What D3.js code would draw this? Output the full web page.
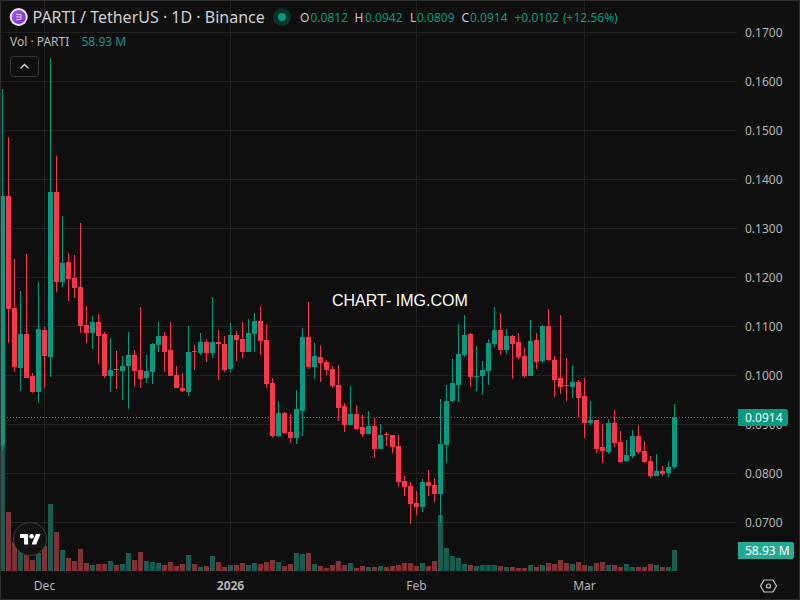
<!DOCTYPE html>
<html>
<head>
<meta charset="utf-8">
<script src="https://cdn.jsdelivr.net/npm/d3@7/dist/d3.min.js"></script>
<style>
  html, body { margin: 0; padding: 0; background: #0f0f0f; }
  svg { display: block; }
  text { font-family: "Noto Sans", sans-serif; }
</style>
</head>
<body>
<div id="chart"></div>
<script>
// daily candles
const opens = [
  .0858,.1366,.1137,.1015,.1084,.0999,.0966,.1092,.1037,.1374,
  .1190,.1231,.1199,.1180,.1103,.1086,.1109,.1084,.0999,.1013,
  .1009,.1019,.1041,.1011,.0994,.1007,.1062,.1080,.1052,.1001,
  .0974,.0966,.1050,.1045,.1068,.1045,.1068,.1064,.1013,.1082,
  .1074,.1048,.1084,.1111,.1072,.0984,.0876,.0923,.0884,.0872,
  .0927,.1078,.1017,.1037,.1027,.1013,.0980,.0937,.0899,.0921,
  .0895,.0880,.0897,.0850,.0880,.0878,.0856,.0784,.0774,.0739,
  .0731,.0782,.0776,.0758,.0858,.0948,.0980,.1041,.1084,.0996,
  .0999,.1009,.1064,.1092,.1052,.1080,.1068,.1039,.0999,.1072,
  .1029,.1101,.1031,.0994,.0980,.0976,.0986,.0958,.0903,.0909,
  .0854,.0843,.0903,.0864,.0825,.0835,.0876,.0845,.0825,.0794,
  .0805,.0801,.0812];
const highs = [
  .1584,.1486,.1237,.1172,.1248,.1005,.1190,.1099,.1648,.1448,
  .1325,.1250,.1246,.1311,.1141,.1121,.1125,.1088,.1076,.1050,
  .1039,.1088,.1052,.1139,.1041,.1066,.1109,.1088,.1109,.1019,
  .1005,.1101,.1062,.1086,.1074,.1160,.1092,.1080,.1107,.1090,
  .1109,.1115,.1127,.1141,.1105,.0994,.0948,.0925,.0921,.0970,
  .1097,.1150,.1066,.1062,.1031,.1019,.1021,.0943,.0978,.0939,
  .0919,.0927,.0913,.0901,.0884,.0878,.0878,.0794,.0782,.0764,
  .0788,.0807,.0790,.0952,.0980,.1033,.1105,.1123,.1086,.1060,
  .1029,.1074,.1139,.1127,.1094,.1082,.1086,.1056,.1113,.1086,
  .1103,.1135,.1039,.1123,.1035,.1019,.0990,.0994,.0948,.0909,
  .0901,.0911,.0929,.0886,.0868,.0888,.0899,.0866,.0835,.0839,
  .0815,.0825,.0942];
const lows = [
  .0848,.1066,.1007,.0968,.0994,.0964,.0943,.0974,.0996,.1170,
  .1180,.1152,.1158,.1086,.1066,.1054,.1023,.0994,.0966,.0972,
  .0950,.0931,.0976,.0974,.0984,.0982,.1048,.1007,.0999,.0974,
  .0966,.0958,.1011,.1041,.1027,.1035,.0990,.1007,.1007,.1029,
  .1035,.1048,.1048,.1041,.0974,.0872,.0874,.0880,.0862,.0860,
  .0876,.1013,.0992,.0986,.1001,.0974,.0907,.0884,.0899,.0890,
  .0874,.0880,.0831,.0850,.0856,.0841,.0772,.0754,.0696,.0715,
  .0721,.0754,.0741,.0699,.0821,.0945,.0945,.1037,.0976,.0968,
  .0960,.0980,.1058,.1041,.1043,.0992,.1033,.0994,.0999,.1013,
  .1025,.1029,.0956,.0962,.0948,.0954,.0915,.0872,.0899,.0841,
  .0821,.0839,.0854,.0821,.0823,.0831,.0839,.0821,.0790,.0794,
  .0794,.0792,.0809];
const closes = [
  .1366,.1135,.1017,.1084,.0994,.0966,.1094,.1039,.1374,.1190,
  .1229,.1197,.1178,.1101,.1086,.1109,.1080,.0999,.1011,.1011,
  .1019,.1041,.1009,.0992,.1009,.1064,.1080,.1048,.0999,.0974,
  .0968,.1048,.1048,.1068,.1045,.1068,.1064,.1011,.1082,.1072,
  .1048,.1086,.1111,.1070,.0982,.0876,.0923,.0882,.0872,.0931,
  .1078,.1017,.1039,.1025,.1011,.0978,.0933,.0899,.0921,.0890,
  .0880,.0897,.0850,.0878,.0878,.0854,.0782,.0772,.0737,.0731,
  .0782,.0774,.0758,.0860,.0948,.0984,.1043,.1082,.0996,.0999,
  .1011,.1066,.1092,.1052,.1080,.1064,.1037,.0999,.1070,.1027,
  .1101,.1031,.0990,.0976,.0978,.0986,.0954,.0903,.0909,.0850,
  .0845,.0903,.0862,.0823,.0837,.0876,.0843,.0823,.0794,.0805,
  .0799,.0812,.0914];
// volume in millions of PARTI
const volumes = [
  353.6,165.6,81.4,67.3,44.9,30.9,50.5,70.2,188.0,109.4,
  58.9,36.5,28.1,61.7,22.4,16.8,19.6,19.6,28.1,16.8,
  19.6,50.5,30.9,53.3,28.1,25.3,22.4,16.8,25.3,14.0,
  19.6,44.9,19.6,11.2,14.0,42.1,25.3,11.2,16.8,16.8,
  22.4,16.8,22.4,19.6,25.3,30.9,25.3,14.0,19.6,50.5,
  47.7,50.5,19.6,14.0,8.4,16.8,28.1,16.8,22.4,8.4,
  14.0,11.2,11.2,14.0,11.2,14.0,16.8,22.4,22.4,14.0,
  22.4,14.0,28.1,157.1,64.5,42.1,36.5,19.6,16.8,14.0,
  16.8,16.8,16.8,14.0,11.2,11.2,8.4,8.4,16.8,11.2,
  16.8,22.4,19.6,30.9,22.4,19.6,25.3,16.8,14.0,22.4,
  25.3,16.8,16.8,11.2,19.6,11.2,11.2,11.2,19.6,16.8,
  11.2,11.2,58.93];

const priceTicks = [0.07, 0.08, 0.09, 0.10, 0.11, 0.12, 0.13, 0.14, 0.15, 0.16, 0.17];
const timeIndex = [7, 38, 69, 97];
const timeLabels = ["Dec", "2026", "Feb", "Mar"];

const lastPrice = 0.0914;
const lastVolume = 58.93;
const legendValues = [["O", "0.0812", 300, 310.5], ["H", "0.0942", 354.5, 365], ["L", "0.0809", 410, 417], ["C", "0.0914", 461.5, 470]];

const upColor = "#089981";
const downColor = "#f7374a";
const upVolume = "#195d52";
const downVolume = "#833037";
const gridColor = "#222222";
const axisText = "#b4b4b4";

const svg = d3.select("#chart").append("svg")
    .attr("width", 800)
    .attr("height", 600);

svg.append("rect").attr("width", 800).attr("height", 600).attr("fill", "#0f0f0f");

// window frame
svg.append("rect")
    .attr("x", 0.5).attr("y", 0.5).attr("width", 799).attr("height", 599)
    .attr("fill", "none").attr("stroke", "#2e2e2e");

const x = d3.scaleLinear().domain([0, 112]).range([2.5, 674.5]);
const y = d3.scaleLinear().domain([0.07, 0.17]).range([522.3, 32.3]);
const yVol = d3.scaleLinear().domain([0, 360]).range([571, 442.7]);

svg.append("clipPath").attr("id", "pane")
    .append("rect").attr("x", 1).attr("y", 1).attr("width", 737).attr("height", 570);

// grid
svg.append("g").selectAll("line")
    .data(priceTicks)
    .enter().append("line")
    .attr("x1", 1).attr("x2", 737)
    .attr("y1", d => Math.round(y(d)) + 0.5)
    .attr("y2", d => Math.round(y(d)) + 0.5)
    .attr("stroke", gridColor);

svg.append("g").selectAll("line")
    .data(timeIndex)
    .enter().append("line")
    .attr("x1", d => x(d)).attr("x2", d => x(d))
    .attr("y1", 1).attr("y2", 571)
    .attr("stroke", gridColor);

const pane = svg.append("g").attr("clip-path", "url(#pane)");
const idx = d3.range(opens.length);
const isUp = i => closes[i] >= opens[i];

// volume bars sit under the candles
pane.append("g").selectAll("rect")
    .data(idx)
    .enter().append("rect")
    .attr("x", i => x(i) - 2.5)
    .attr("width", 5)
    .attr("y", i => Math.round(yVol(volumes[i])))
    .attr("height", i => 571 - Math.round(yVol(volumes[i])))
    .attr("fill", i => isUp(i) ? upVolume : downVolume);

// last price line
pane.append("line")
    .attr("x1", 1).attr("x2", 737)
    .attr("y1", Math.round(y(lastPrice)) + 0.5)
    .attr("y2", Math.round(y(lastPrice)) + 0.5)
    .attr("stroke", upColor)
    .attr("stroke-dasharray", "1 2");

// wicks
pane.append("g").selectAll("line")
    .data(idx)
    .enter().append("line")
    .attr("x1", i => x(i)).attr("x2", i => x(i))
    .attr("y1", i => Math.round(y(highs[i])))
    .attr("y2", i => Math.round(y(lows[i])))
    .attr("stroke", i => isUp(i) ? upColor : downColor);

// bodies
pane.append("g").selectAll("rect")
    .data(idx)
    .enter().append("rect")
    .attr("x", i => x(i) - 2.5)
    .attr("width", 5)
    .attr("y", i => Math.round(y(Math.max(opens[i], closes[i]))))
    .attr("height", i => Math.max(1, Math.round(y(Math.min(opens[i], closes[i]))) - Math.round(y(Math.max(opens[i], closes[i])))))
    .attr("fill", i => isUp(i) ? upColor : downColor);

// price axis
const priceAxis = d3.axisRight(y)
    .tickValues(priceTicks)
    .tickSize(0)
    .tickPadding(0)
    .tickFormat(d3.format(".4f"));

const pa = svg.append("g").attr("transform", "translate(745,0)").call(priceAxis);
pa.select(".domain").remove();
pa.selectAll("text")
    .attr("fill", axisText)
    .style("font-size", "12px")
    .style("font-family", '"Noto Sans", sans-serif');

// time axis
const timeAxis = d3.axisBottom(x)
    .tickValues(timeIndex)
    .tickSize(0)
    .tickPadding(0)
    .tickFormat((d, i) => timeLabels[i]);

const ta = svg.append("g").attr("transform", "translate(-0.5,581.5)").call(timeAxis);
ta.select(".domain").remove();
ta.selectAll("text")
    .attr("fill", axisText)
    .style("font-size", "12px")
    .style("font-family", '"Noto Sans", sans-serif')
    .style("font-weight", (d, i) => timeLabels[i] === "2026" ? "700" : "400");

// value pills on the axis
function pill(top, w, fill, label) {
    svg.append("path")
        .attr("d", `M738,${top}H${738 + w - 2}q2,0 2,2V${top + 15}q0,2 -2,2H738Z`)
        .attr("fill", fill);
    svg.append("text")
        .attr("x", 745).attr("y", top + 13)
        .attr("fill", "#ffffff").attr("font-size", 12)
        .text(label);
}
pill(Math.round(y(lastPrice)) - 8, 50, upColor, d3.format(".4f")(lastPrice));
pill(542, 56, "#22ab94", lastVolume.toFixed(2) + " M");

// header
const defs = svg.append("defs");
const grad = defs.append("linearGradient").attr("id", "coin")
    .attr("x1", 0).attr("y1", 0).attr("x2", 1).attr("y2", 1);
grad.append("stop").attr("offset", 0).attr("stop-color", "#b45cf2");
grad.append("stop").attr("offset", 1).attr("stop-color", "#6a2bd0");

svg.append("circle").attr("cx", 18.7).attr("cy", 17).attr("r", 9).attr("fill", "#efe6fb");
svg.append("circle").attr("cx", 18.7).attr("cy", 17).attr("r", 7).attr("fill", "url(#coin)");
svg.append("path")
    .attr("d", "M16.2,14.5H21V19.5H16.2M16.2,17H21")
    .attr("fill", "none").attr("stroke", "#e3d2fa").attr("stroke-width", 1);

svg.append("text")
    .attr("x", 32.5).attr("y", 22.5)
    .attr("fill", "#d1d1d1").attr("font-size", 16)
    .text("PARTI / TetherUS · 1D · Binance");

svg.append("circle").attr("cx", 282).attr("cy", 17).attr("r", 9).attr("fill", "#0b332d");
svg.append("circle").attr("cx", 282).attr("cy", 17).attr("r", 4).attr("fill", upColor);

svg.append("g").selectAll("text")
    .data(legendValues)
    .enter().append("text")
    .attr("x", d => d[2]).attr("y", 22)
    .attr("fill", "#c8c8c8").attr("font-size", 12)
    .text(d => d[0]);

svg.append("g").selectAll("text")
    .data(legendValues)
    .enter().append("text")
    .attr("x", d => d[3]).attr("y", 22)
    .attr("fill", upColor).attr("font-size", 12)
    .text(d => d[1]);

svg.append("text").attr("x", 514.5).attr("y", 22).attr("fill", upColor).attr("font-size", 12).text("+0.0102");
svg.append("text").attr("x", 563).attr("y", 22).attr("fill", upColor).attr("font-size", 12).text("(+12.56%)");

svg.append("text").attr("x", 10).attr("y", 45.5).attr("fill", "#b8b8b8").attr("font-size", 12).text("Vol · PARTI");
svg.append("text").attr("x", 81.5).attr("y", 45.5).attr("fill", "#1f9384").attr("font-size", 12).text("58.93 M");

// collapse button
svg.append("rect")
    .attr("x", 10.5).attr("y", 56.5).attr("width", 28).attr("height", 20).attr("rx", 3)
    .attr("fill", "#0f0f0f").attr("stroke", "#363636");
svg.append("path")
    .attr("d", "M20.5,68.5L24.5,64.5L28.5,68.5")
    .attr("fill", "none").attr("stroke", "#d8d8d8").attr("stroke-width", 1.3);

// watermark
svg.append("text")
    .attr("x", 332).attr("y", 305.5)
    .attr("fill", "#ffffff").attr("font-size", 16)
    .style("font-family", '"Liberation Sans", sans-serif')
    .text("CHART- IMG.COM");

// tv logo badge
svg.append("circle").attr("cx", 30).attr("cy", 539).attr("r", 16.5)
    .attr("fill", "#131313").attr("stroke", "#3d3d3d").attr("stroke-width", 1);
const logo = svg.append("g").attr("transform", "translate(20,531.7) scale(0.58)").attr("fill", "#ffffff");
logo.append("path").attr("d", "M14 22H7V11H0V4h14v18zM28 22h-8l7.5-18h8L28 22z");
logo.append("circle").attr("cx", 20).attr("cy", 8).attr("r", 4);

// settings icon
svg.append("path")
    .attr("d", "M764,580H773L776.5,586L773,592H764L760.5,586Z")
    .attr("fill", "none").attr("stroke", "#c4c4c4").attr("stroke-width", 1.2);
svg.append("circle").attr("cx", 768.5).attr("cy", 586).attr("r", 2)
    .attr("fill", "none").attr("stroke", "#c4c4c4").attr("stroke-width", 1.2);
</script>
</body>
</html>
